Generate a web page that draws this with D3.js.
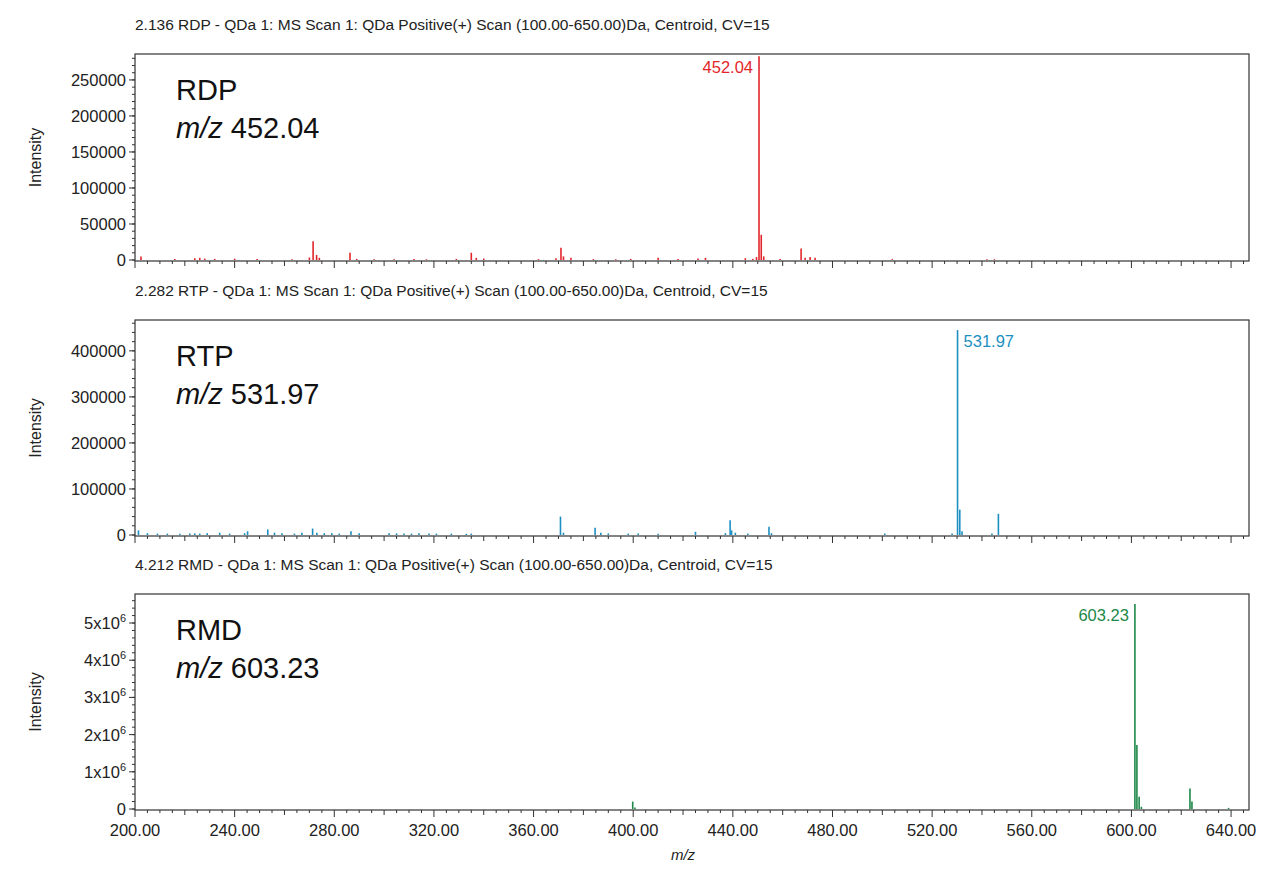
<!DOCTYPE html>
<html><head><meta charset="utf-8">
<script src="https://cdn.jsdelivr.net/npm/d3@7"></script>
<style>body{margin:0;background:#fff;font-family:Arial,"Liberation Sans",sans-serif}</style>
</head><body><svg id="c" width="1280" height="884"></svg>
<script>
// spectra: [m/z, intensity]
var rdpPeaks = [[202.4,5000],[216,1500],[224,2500],[226,3000],[228,2000],[232,1500],[240,1800],[249,1500],[263,1200],[270,3500],[271.5,26000],[272.9,7000],[274,3000],[286.3,10000],[289,1500],[296,1000],[304,1200],[312,1500],[317,1000],[329,1500],[335,10000],[337,3000],[340,2000],[362,1200],[369,2500],[371,17000],[372,5000],[375,3000],[384,1200],[393,1000],[399,1500],[410,3000],[418,1500],[426,2000],[429,3000],[445,2500],[448,1500],[449.5,4000],[450.5,283000],[451.4,35000],[452.4,5000],[459,1500],[467.4,16000],[469,3000],[471,4000],[473,3000],[504,1200],[542,1200],[545,1000]];
var rtpPeaks = [[201.4,10000],[205,4000],[209,3000],[213,3000],[218,2500],[222,3000],[224,3500],[226,3000],[229,4000],[234,5000],[238,3000],[244,4000],[245.2,8000],[253.3,12000],[256,5000],[259,4000],[264,3000],[267,5000],[271.3,14000],[273,5000],[276,4000],[279,4000],[282,3000],[286.7,8000],[290,4000],[302,4000],[305,3500],[308,3500],[311,3000],[314,4000],[318,3500],[321,3000],[327,3000],[333,2500],[335,3000],[370.8,40000],[372,5000],[384.7,16000],[387,5000],[390,3500],[398,3000],[402,3000],[410,2500],[425,7000],[437,4000],[438.9,32000],[439.5,10000],[441,5000],[446,3000],[454.5,18000],[455.5,4000],[501,3000],[528,3000],[530.2,445000],[531.1,55000],[532,8000],[544,3000],[546.6,46000]];
var rmdPeaks = [[399.8,200000],[400.7,40000],[601.4,5510000],[602.2,1720000],[603.1,330000],[604,60000],[623.5,550000],[624.3,200000],[639,30000]];

var titles = ["2.136 RDP - QDa 1: MS Scan 1: QDa Positive(+) Scan (100.00-650.00)Da, Centroid, CV=15",
  "2.282 RTP - QDa 1: MS Scan 1: QDa Positive(+) Scan (100.00-650.00)Da, Centroid, CV=15",
  "4.212 RMD - QDa 1: MS Scan 1: QDa Positive(+) Scan (100.00-650.00)Da, Centroid, CV=15"];
var names = ["RDP", "RTP", "RMD"];
var labelMz = ["452.04", "531.97", "603.23"];
var xTicks = [200, 240, 280, 320, 360, 400, 440, 480, 520, 560, 600, 640];

var panels = [
  {peaks: rdpPeaks, top: 54, bottom: 261, ymax: 286000, ticks: [0,50000,100000,150000,200000,250000], minor: 10000, color: "#e3262b", labelSide: -1, exp: false},
  {peaks: rtpPeaks, top: 320, bottom: 536, ymax: 467000, ticks: [0,100000,200000,300000,400000], minor: 20000, color: "#1b8fc2", labelSide: 1, exp: false},
  {peaks: rmdPeaks, top: 594, bottom: 810, ymax: 5780000, ticks: [0,1e6,2e6,3e6,4e6,5e6], minor: 200000, color: "#1d8847", labelSide: -1, exp: true}
];

var svg = d3.select("#c");
var left = 135, right = 1249;
var x = d3.scaleLinear().domain([200, 647.2]).range([left, right]);

panels.forEach(function(p, i) {
  var y = d3.scaleLinear().domain([0, p.ymax]).range([p.bottom - 1, p.top]);
  var g = svg.append("g");

  g.append("text").attr("x", left).attr("y", p.top - 24).attr("font-size", 15.5).attr("fill", "#222").text(titles[i]);
  g.append("rect").attr("x", left).attr("y", p.top).attr("width", right - left).attr("height", p.bottom - p.top)
    .attr("fill", "none").attr("stroke", "#333").attr("stroke-width", 1.2);

  // y axis minor ticks
  g.selectAll("line.ym").data(d3.range(0, p.ymax, p.minor)).enter().append("line")
    .attr("x1", left - 3).attr("x2", left).attr("y1", function(d) { return y(d); }).attr("y2", function(d) { return y(d); })
    .attr("stroke", "#333");
  g.selectAll("line.yM").data(p.ticks).enter().append("line")
    .attr("x1", left - 6).attr("x2", left).attr("y1", function(d) { return y(d); }).attr("y2", function(d) { return y(d); })
    .attr("stroke", "#333");
  var yl = g.selectAll("text.yl").data(p.ticks).enter().append("text")
    .attr("x", left - 9).attr("y", function(d) { return y(d) + 6; }).attr("text-anchor", "end")
    .attr("font-size", 16.5).attr("fill", "#222");
  if (p.exp) {
    yl.each(function(d) {
      var t = d3.select(this);
      if (d === 0) { t.text("0"); return; }
      t.append("tspan").text((d / 1e6) + "x10");
      t.append("tspan").attr("dy", -7).attr("font-size", 11).text("6");
    });
  } else {
    yl.text(function(d) { return d; });
  }
  g.append("text").attr("transform", "translate(41," + ((p.top + p.bottom) / 2) + ") rotate(-90)")
    .attr("text-anchor", "middle").attr("font-size", 16).attr("fill", "#222").text("Intensity");

  // x ticks
  g.selectAll("line.xm").data(d3.range(200, 647, 5)).enter().append("line")
    .attr("x1", function(d) { return x(d); }).attr("x2", function(d) { return x(d); })
    .attr("y1", p.bottom).attr("y2", function(d) { return p.bottom + (d % 40 === 0 ? 7 : d % 20 === 0 ? 5 : 3); })
    .attr("stroke", "#333");

  // peaks
  g.selectAll("line.pk").data(p.peaks).enter().append("line")
    .attr("x1", function(d) { return x(d[0]); }).attr("x2", function(d) { return x(d[0]); })
    .attr("y1", y(0)).attr("y2", function(d) { return y(d[1]); })
    .attr("stroke", p.color).attr("stroke-width", 1.6);

  var main = p.peaks.reduce(function(a, b) { return b[1] > a[1] ? b : a; });
  g.append("text").attr("x", x(main[0]) + p.labelSide * 6).attr("y", y(main[1]) + 17)
    .attr("text-anchor", p.labelSide < 0 ? "end" : "start").attr("font-size", 16.5).attr("fill", p.color).text(labelMz[i]);

  g.append("text").attr("x", 176).attr("y", p.top + 46).attr("font-size", 29).attr("fill", "#111").text(names[i]);
  var t2 = g.append("text").attr("x", 176).attr("y", p.top + 84).attr("font-size", 29).attr("fill", "#111");
  t2.append("tspan").attr("font-style", "italic").text("m/z");
  t2.append("tspan").text(" " + labelMz[i]);
});

var last = panels[2];
svg.selectAll("text.xl").data(xTicks).enter().append("text")
  .attr("x", function(d) { return x(d); }).attr("y", last.bottom + 26).attr("text-anchor", "middle")
  .attr("font-size", 16.5).attr("fill", "#222").text(function(d) { return d.toFixed(2); });
svg.append("text").attr("x", x(420)).attr("y", last.bottom + 50).attr("text-anchor", "middle")
  .attr("font-size", 15).attr("font-style", "italic").attr("fill", "#222").text("m/z");
</script></body></html>
